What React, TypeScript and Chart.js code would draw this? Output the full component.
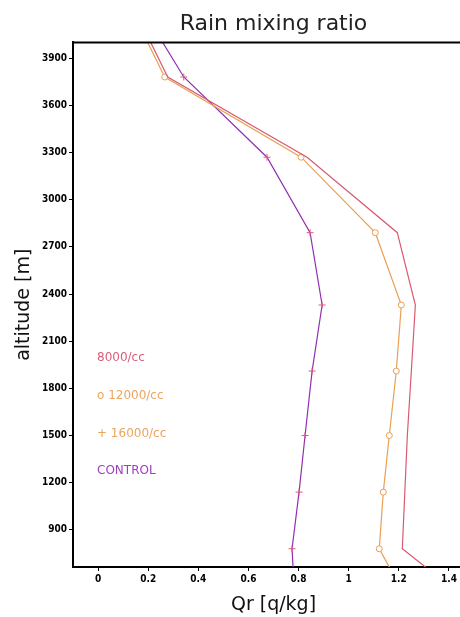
import { useEffect, useRef } from "react";
import { Chart, registerables } from "chart.js";

Chart.register(...registerables);

// Model levels (m) and rain mixing ratio (g/kg) per run
const ALTITUDES = [420, 780, 1140, 1500, 1910, 2330, 2790, 3270, 3780, 4300];
const QR_8000 = [1.5, 1.214, 1.224, 1.234, 1.25, 1.266, 1.194, 0.834, 0.278, 0.117];
const QR_12000 = [1.246, 1.122, 1.138, 1.162, 1.19, 1.21, 1.106, 0.81, 0.266, 0.105];
const QR_CONTROL = [0.786, 0.774, 0.802, 0.826, 0.854, 0.894, 0.846, 0.674, 0.342, 0.143];

const X_TICKS = [0, 0.2, 0.4, 0.6, 0.8, 1, 1.2, 1.4];
const Y_TICKS = [900, 1200, 1500, 1800, 2100, 2400, 2700, 3000, 3300, 3600, 3900];

const LEGEND_LABELS = ["8000/cc", "o 12000/cc", "+ 16000/cc", "CONTROL"];
const LEGEND_COLORS = ["#d8607c", "#eaa55e", "#eaa55e", "#a23cc0"];

const RED = "#d85a72";
const ORANGE = "#e9a052";
const PURPLE = "#9030b0";

const TICK_FONT = { family: "'DejaVu Sans Condensed', 'DejaVu Sans', sans-serif", size: 10, weight: "bold" as const };
const LABEL_FONT = { family: "'DejaVu Sans', sans-serif", size: 19, weight: "normal" as const };

const toPoints = (xs: number[]) => xs.map((x, i) => ({ x, y: ALTITUDES[i] }));
// markers only on the levels inside the plotted window
const markerRadius = (r: number) => ALTITUDES.map((_, i) => (i === 0 || i === ALTITUDES.length - 1 ? 0 : r));

const framePlugin = {
  id: "frameAndNotes",
  afterDraw(chart: any) {
    const { ctx, chartArea } = chart;
    ctx.save();
    // top frame line
    ctx.strokeStyle = "#000";
    ctx.lineWidth = 2;
    ctx.beginPath();
    ctx.moveTo(chartArea.left - 1, chartArea.top);
    ctx.lineTo(chartArea.right, chartArea.top);
    ctx.stroke();
    // run labels
    ctx.font = "12px 'DejaVu Sans', sans-serif";
    ctx.textAlign = "left";
    ctx.textBaseline = "middle";
    const offsets = [315, 353, 391, 428];
    LEGEND_LABELS.forEach((t, i) => {
      ctx.fillStyle = LEGEND_COLORS[i];
      ctx.fillText(t, chartArea.left + 24, chartArea.top + offsets[i]);
    });
    ctx.restore();
  },
};

export default function App() {
  const canvasRef = useRef<HTMLCanvasElement | null>(null);

  useEffect(() => {
    if (!canvasRef.current) return;
    const chart = new Chart(canvasRef.current, {
      type: "line",
      data: {
        datasets: [
          {
            label: "8000/cc",
            data: toPoints(QR_8000),
            borderColor: RED,
            borderWidth: 1.2,
            pointRadius: 0,
            tension: 0,
          },
          {
            label: "12000/cc",
            data: toPoints(QR_12000),
            borderColor: ORANGE,
            borderWidth: 1.2,
            pointStyle: "circle",
            pointRadius: markerRadius(3),
            pointBorderColor: ORANGE,
            pointBackgroundColor: "#fff",
            pointBorderWidth: 1,
            tension: 0,
          },
          {
            label: "CONTROL",
            data: toPoints(QR_CONTROL),
            borderColor: PURPLE,
            borderWidth: 1.2,
            pointStyle: "cross",
            pointRadius: markerRadius(3.5),
            pointBorderColor: "#e0587e",
            pointBorderWidth: 1,
            tension: 0,
          },
        ],
      },
      options: {
        animation: false,
        responsive: false,
        devicePixelRatio: 1,
        layout: { padding: { left: 0, right: 6, top: 0, bottom: 0 } },
        plugins: {
          legend: { display: false },
          tooltip: { enabled: false },
          title: {
            display: true,
            text: "Rain mixing ratio",
            fullSize: false,
            color: "#222",
            font: { family: "'DejaVu Sans', sans-serif", size: 22, weight: "normal" },
            padding: { top: 11, bottom: 5 },
          },
        },
        scales: {
          x: {
            type: "linear",
            position: "bottom",
            min: -0.1,
            max: 1.5,
            afterBuildTicks: (s: any) => {
              s.ticks = X_TICKS.map((v) => ({ value: v }));
            },
            afterFit: (s: any) => {
              s.height = 50;
            },
            ticks: {
              color: "#000",
              font: TICK_FONT,
              padding: 2,
              maxRotation: 0,
              autoSkip: false,
              callback: (v: any) => String(Math.round(Number(v) * 10) / 10),
            },
            grid: { drawOnChartArea: false, drawTicks: true, tickLength: 4, color: "#000", lineWidth: 1 },
            border: { display: true, color: "#000", width: 2 },
            title: {
              display: true,
              text: "Qr [q/kg]",
              color: "#111",
              font: LABEL_FONT,
              padding: { top: 0, bottom: 1 },
            },
          },
          y: {
            type: "linear",
            position: "left",
            min: 664,
            max: 4000,
            afterBuildTicks: (s: any) => {
              s.ticks = Y_TICKS.map((v) => ({ value: v }));
            },
            afterFit: (s: any) => {
              s.width = 73;
            },
            ticks: {
              color: "#000",
              font: TICK_FONT,
              padding: 2,
              autoSkip: false,
              callback: (v: any) => String(v),
            },
            grid: { drawOnChartArea: false, drawTicks: true, tickLength: 4, color: "#000", lineWidth: 1 },
            border: { display: true, color: "#000", width: 2 },
            title: {
              display: true,
              text: "altitude [m]",
              color: "#111",
              font: LABEL_FONT,
              padding: { top: 13, bottom: 0 },
            },
          },
        },
      },
      plugins: [framePlugin],
    });
    return () => chart.destroy();
  }, []);

  return (
    <div
      style={{
        position: "fixed",
        left: 0,
        top: 0,
        width: 460,
        height: 617,
        overflow: "hidden",
        background: "#fff",
      }}
    >
      <canvas ref={canvasRef} width={480} height={617} style={{ width: 480, height: 617, display: "block" }} />
    </div>
  );
}
